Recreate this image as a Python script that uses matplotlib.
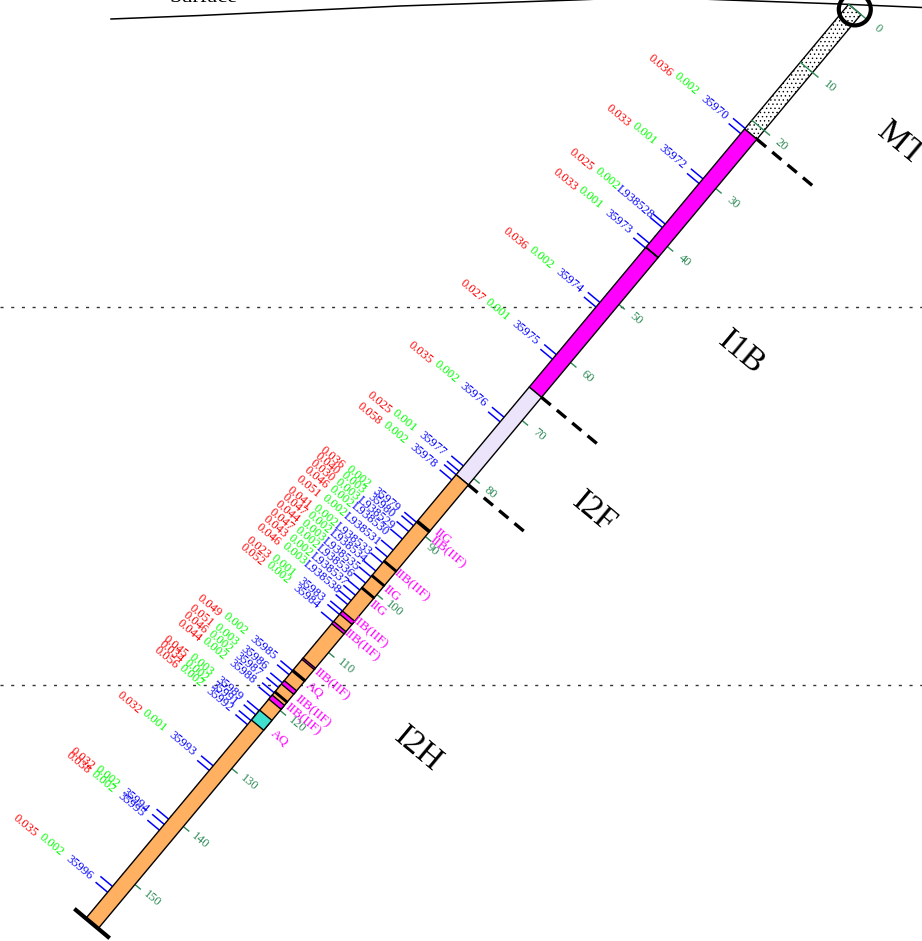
import matplotlib
matplotlib.use("Agg")
import matplotlib.pyplot as plt
import numpy as np
from matplotlib.patches import Polygon, Circle

plt.rcParams['font.family'] = ['Liberation Serif', 'DejaVu Serif']
plt.rcParams['hatch.linewidth'] = 0.5

# samples, one entry each
sample_names = ["35970", "35972", "L938528", "35973", "35974", "35975", "35976", "35977", "35978",
                "35979", "35980", "L938529", "L938530", "L938531", "L938533", "L938534", "L938535",
                "L938536", "L938537", "L938538", "35983", "35984", "35985", "35986", "35987", "35988",
                "35989", "35991", "35992", "35993", "35994", "35995", "35996"]
sample_depths = [21.9, 30.5, 38.2, 41.6, 51.8, 60.8, 71.5, 80, 82,
                 89.6, 90.6, 91.8, 93, 94.6, 96.4, 97.6, 98.9,
                 100.2, 101.5, 102.9, 105, 106.2, 115, 116.8, 118, 119.3,
                 122.1, 123, 124, 131.7, 141.4, 142.2, 153]
red_values = [.036, .033, .025, .033, .036, .027, .035, .025, .058,
              .036, .040, .030, .046, .051, .041, .047, .044,
              .047, .043, .046, .023, .052, .049, .051, .046, .044,
              .045, .034, .056, .032, .032, .038, .035]
green_values = [.002, .001, .002, .001, .002, .001, .002, .001, .002,
                .002, .003, .003, .002, .002, .002, .002, .003,
                .002, .002, .003, .001, .002, .002, .003, .002, .002,
                .003, .002, .002, .001, .002, .002, .002]
sample_lines = [21.4, 22.3, 30.1, 30.9, 37.9, 38.5, 41.2, 42, 51.4, 52.2, 60.4, 61.2, 71.2, 72,
                79.6, 80.5, 81.1, 82, 89.3, 89.9, 90.9, 92.2, 94.1, 95.3, 96.3, 97.7, 98.7, 99.8,
                101, 101.9, 102.8, 103.5, 104.6, 105.2, 106.5, 114.9, 115.6, 117, 117.8, 118.7,
                119.4, 121.8, 122.5, 123.5, 124.2, 131.3, 132.1, 140.5, 141.4, 142.4, 152.1, 153.1]

# main units along the well
zone_tops = [0, 21.5, 66, 81.1]
zone_bottoms = [21.5, 66, 81.1, 157.6]
zone_colors = ["white", "#ff00ff", "#ece4fa", "#ffb061"]
fault_depths = [21.5, 66, 81.1]
zone_names = ["MT", "I1B", "I2F", "I2H"]
zone_name_x = [901, 741, 594, 418]
zone_name_y = [144, 353, 513, 749]

# thin bands inside the lower unit
band_tops = [41.88, 89.0, 95.9, 98.4, 100.5, 104.6, 106.4, 112.7, 114.75, 116.6, 118.45, 119.1, 121.7]
band_bottoms = [41.92, 89.3, 96.1, 98.6, 100.7, 105.15, 106.8, 112.95, 115.0, 117.2, 118.65, 119.8, 123.4]
band_colors = ["black", "black", "black", "black", "black", "#ff00ff", "#ff00ff", "#ff00ff",
               "black", "#ff00ff", "black", "#ff00ff", "#40e0d0"]

fracture_names = ["IIG", "IIB(IIF)", "IIB(IIF)", "IIG", "IIG", "IIB(IIF)", "IIB(IIF)",
                  "IIB(IIF)", "AQ", "IIB(IIF)", "IIB(IIF)", "AQ"]
fracture_depths = [88.5, 89.7, 96.2, 98.7, 101.4, 104.4, 106.4, 113, 115, 117.3, 119, 122.9]
fracture_offsets = [21, 35, 29, 19, 18, 27, 29, 31, 21, 34, 31, 25]

depth_ticks = np.arange(0, 151, 10)

surface_x = [111, 200, 400, 575, 650, 727, 840, 922]
surface_y = [19, 15.5, 6, 0, -3, 0, 4, 7.5]
level_y = [307, 685]

# well geometry in pixels
top_x, top_y = 854.8, 9.4
step_x, step_y = -4.84, 5.8
half_width = 8
along = np.array([step_x, step_y]) / np.hypot(step_x, step_y)
across = np.array([along[1], -along[0]])
angle = -np.degrees(np.arctan2(across[1], across[0]))


def wellPoint(d, off=0):
    return (top_x + step_x * d + across[0] * off, top_y + step_y * d + across[1] * off)


def drawInterval(ax, top, bottom, color, z, **kw):
    corners = [wellPoint(top, -half_width), wellPoint(top, half_width),
               wellPoint(bottom, half_width), wellPoint(bottom, -half_width)]
    ax.add_patch(Polygon(corners, closed=True, facecolor=color, edgecolor="black", linewidth=1.0, zorder=z, **kw))


fig = plt.figure(figsize=(9.22, 9.41), dpi=100)
ax = fig.add_axes([0, 0, 1, 1])
ax.set_xlim(0, 922)
ax.set_ylim(941, 0)
ax.axis("off")

for y in level_y:
    ax.plot([0, 922], [y, y], color="#333333", lw=1, linestyle=(0, (2.2, 5.5)), zorder=1)
ax.plot(surface_x, surface_y, color="black", lw=1.1, zorder=2)
ax.text(203, -2.5, "Surface", fontsize=16, ha="center", va="center", zorder=2)

# stippled unit sits under the depth ticks, the others over them
drawInterval(ax, zone_tops[0], zone_bottoms[0], zone_colors[0], 3, hatch="....")
for d in depth_ticks:
    p0 = wellPoint(d, -half_width)
    p1 = wellPoint(d, half_width + 7)
    ax.plot([p0[0], p1[0]], [p0[1], p1[1]], color="#2e8b57", lw=1, zorder=4)
    # the 90 label was moved aside in the original
    if d == 90:
        p = wellPoint(90.74, 22.3)
    else:
        p = wellPoint(d, 30)
    ax.text(p[0], p[1], str(d), color="#2e8b57", fontsize=9, rotation=angle,
            rotation_mode="anchor", ha="center", va="center", zorder=8)
for i in range(1, 4):
    drawInterval(ax, zone_tops[i], zone_bottoms[i], zone_colors[i], 5)
for i in range(len(band_tops)):
    drawInterval(ax, band_tops[i], band_bottoms[i], band_colors[i], 6)

for d in sample_lines:
    p0 = wellPoint(d, -half_width)
    p1 = wellPoint(d, -half_width - 15)
    ax.plot([p0[0], p1[0]], [p0[1], p1[1]], color="#0000ff", lw=1.1, zorder=4)

for i in range(len(sample_names)):
    d = sample_depths[i]
    columns = [(sample_names[i], "#0000ff", d, 45.5),
               ("%.3f" % green_values[i], "#00ff00", d, 82),
               ("%.3f" % red_values[i], "#ff0000", d + 0.3, 113.5)]
    for label, color, pos, off in columns:
        p = wellPoint(pos, -off)
        ax.text(p[0], p[1], label, color=color, fontsize=9, rotation=angle,
                rotation_mode="anchor", ha="center", va="center", zorder=8)

for i in range(len(fracture_names)):
    p = wellPoint(fracture_depths[i], fracture_offsets[i])
    ax.text(p[0], p[1], fracture_names[i], color="#ff00ff", fontsize=9.5, rotation=angle,
            rotation_mode="anchor", ha="center", va="center", zorder=8)

for d in fault_depths:
    p0 = wellPoint(d, half_width)
    p1 = wellPoint(d, 84.5)
    ax.plot([p0[0], p1[0]], [p0[1], p1[1]], color="black", lw=2.4, linestyle=(0, (3.6, 2.4)), zorder=7)

for i in range(len(zone_names)):
    ax.text(zone_name_x[i], zone_name_y[i], zone_names[i], fontsize=24, rotation=angle,
            rotation_mode="anchor", ha="center", va="center", zorder=8)

ax.add_patch(Circle(wellPoint(0), 16, fill=False, edgecolor="black", linewidth=3, zorder=9))
p0 = wellPoint(zone_bottoms[-1], -23)
p1 = wellPoint(zone_bottoms[-1], 23)
ax.plot([p0[0], p1[0]], [p0[1], p1[1]], color="black", lw=3, solid_capstyle="butt", zorder=9)

fig.savefig("out.png", dpi=100)
